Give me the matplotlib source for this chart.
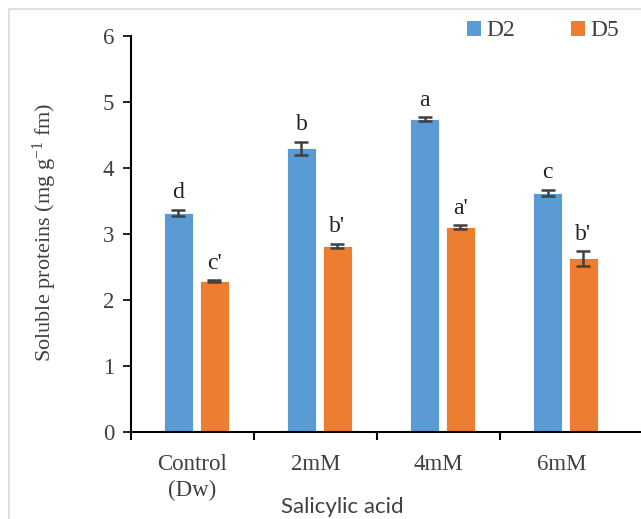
import matplotlib
matplotlib.use("Agg")
import matplotlib.pyplot as plt
from matplotlib.patches import Rectangle
import numpy as np

categories = ["Control\n(Dw)", "2mM", "4mM", "6mM"]
d2_values = [3.32, 4.30, 4.74, 3.62]
d2_errors = [0.05, 0.10, 0.03, 0.05]
d5_values = [2.29, 2.82, 3.10, 2.63]
d5_errors = [0.01, 0.03, 0.03, 0.11]
d2_letters = ["d", "b", "a", "c"]
d5_letters = ["c'", "b'", "a'", "b'"]

blue = "#5B9BD5"
orange = "#ED7D31"
err_color = "#404040"
serif = ["Liberation Serif", "DejaVu Serif"]

plt.rcParams["mathtext.fontset"] = "custom"
plt.rcParams["mathtext.rm"] = "Liberation Serif"
plt.rcParams["mathtext.it"] = "Liberation Serif:italic"
plt.rcParams["mathtext.default"] = "rm"

W, H = 641, 519
fig = plt.figure(figsize=(W / 100, H / 100), dpi=100)

# chart frame
fig.patches.append(Rectangle((9 / W, -0.1), 1.2, 1 - 9 / H + 0.1, transform=fig.transFigure,
                             fill=False, edgecolor="#d9d9d9", linewidth=1.2))

ax = fig.add_axes([131 / W, 1 - 432 / H, (W - 131) / W + 0.01, (432 - 36) / H])

x = np.arange(len(categories))
bw = 0.235
off = 0.145
ax.bar(x - off + 0.03, d2_values, bw, color=blue, edgecolor="white", linewidth=0.6,
       yerr=d2_errors, error_kw=dict(ecolor=err_color, elinewidth=1.8, capsize=5, capthick=1.8),
       label="D2")
ax.bar(x + off + 0.03, d5_values, bw, color=orange, edgecolor="white", linewidth=0.6,
       yerr=d5_errors, error_kw=dict(ecolor=err_color, elinewidth=1.8, capsize=5, capthick=1.8),
       label="D5")

for i in range(len(categories)):
    ax.text(x[i] - off + 0.03, d2_values[i] + d2_errors[i] + 0.1, d2_letters[i],
            ha="center", va="bottom", fontsize=17, family=serif, color="#222222")
    ax.text(x[i] + off + 0.03, d5_values[i] + d5_errors[i] + 0.1, d5_letters[i],
            ha="center", va="bottom", fontsize=17, family=serif, color="#222222")

ax.set_ylim(0, 6)
ax.set_xlim(-0.5, (W - 131) / 123 - 0.5 + 0.05)
ax.set_yticks(range(0, 7))
ax.set_yticklabels([str(v) for v in range(7)], family=serif, fontsize=16.5, color="#404040")
ax.set_xticks(x)
ax.set_xticklabels(categories, family=serif, fontsize=16.5, color="#404040", linespacing=1.3)
ax.set_xticks(np.arange(-0.5, 3.0, 1.0), minor=True)
ax.tick_params(axis="x", which="major", length=0, pad=16)
ax.tick_params(axis="x", which="minor", length=6, width=1.5, direction="out", color="black")
ax.tick_params(axis="y", length=6, width=1.2, direction="out", pad=6)

for s in ["top", "right"]:
    ax.spines[s].set_visible(False)
ax.spines["left"].set_linewidth(1.5)
ax.spines["bottom"].set_linewidth(1.5)

fig.text(45 / W, 1 - 232 / H, "Soluble proteins (mg g$^{-1}$ fm)", rotation=90,
         ha="center", va="center", fontsize=16, family=serif, color="#404040")
fig.text(342 / W, 1 - 507 / H, "Salicylic acid", ha="center", va="center",
         fontsize=16, family=["Lato", "DejaVu Sans"], color="#404040")

leg = fig.legend(loc="center", bbox_to_anchor=(543 / W, 1 - 31 / H), ncol=2, frameon=False,
                 handlelength=0.6, handleheight=0.6, handletextpad=0.2, columnspacing=2.4,
                 prop={"family": serif, "size": 17})
for t in leg.get_texts():
    t.set_color("#404040")
for p in leg.get_patches():
    p.set_edgecolor("none")

fig.savefig("out.png", dpi=100)
